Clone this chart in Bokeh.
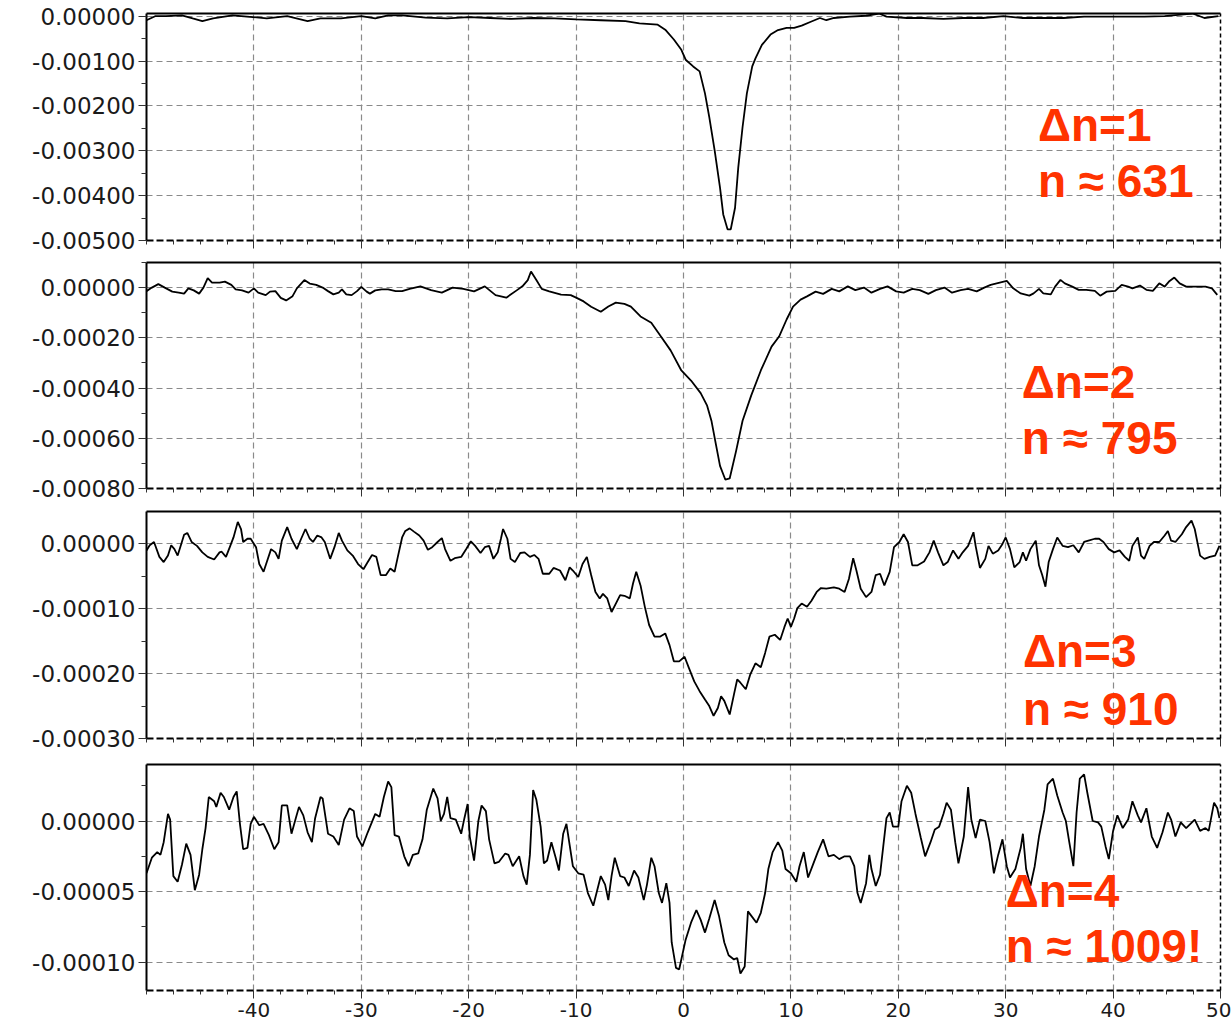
from bokeh.plotting import figure
from bokeh.layouts import column
from bokeh.models import (FixedTicker, PrintfTickFormatter, Range1d, Label, LinearAxis,
                          CustomLabelingPolicy)
from bokeh.embed import file_html
from bokeh.resources import INLINE
import numpy as np

# ---------------- data ----------------
# panel 1 (values in 1e-3)
x1 = [-50.0, -49.2, -48.2, -46.7, -45.7, -44.8, -43.8, -42.0, -40.1, -38.8, -36.9, -35.0, -33.8, -31.9,
      -30.0, -28.7, -27.5, -26.2, -24, -22, -20, -18, -16, -14, -12, -10, -7.7, -5.4, -4.1, -2.4, -1.7,
      -0.9, -0.2, 0.2, 0.9, 1.5, 2.0, 2.4, 2.9, 3.4, 3.7, 4.1, 4.4, 4.8, 5.1, 5.5, 5.9, 6.4, 6.7, 7.3,
      8.1, 8.8, 9.6, 10.3, 11.0, 11.8, 12.7, 13.3, 14.0, 15.5, 17.0, 18.2, 18.9, 20.8, 22.3, 24.2, 26.0,
      27.9, 29.8, 31.6, 33.5, 35.4, 37.3, 39.1, 41.0, 42.9, 44.8, 46.6, 47.4, 48.5, 49.8]
y1 = [-0.09, 0.0, 0.0, 0.02, -0.05, -0.11, -0.05, 0.02, -0.02, -0.05, 0.0, -0.11, -0.05, -0.05, 0.0,
      -0.05, 0.02, 0.02, -0.03, -0.05, -0.02, -0.04, -0.06, -0.04, -0.05, -0.07, -0.09, -0.11, -0.16,
      -0.19, -0.30, -0.52, -0.75, -0.97, -1.12, -1.23, -1.72, -2.25, -2.99, -3.82, -4.42, -4.75, -4.75,
      -4.27, -3.37, -2.47, -1.72, -1.12, -0.94, -0.64, -0.41, -0.31, -0.26, -0.26, -0.21, -0.13, -0.04,
      -0.09, -0.04, -0.01, 0.01, 0.06, -0.01, -0.04, -0.04, -0.06, -0.04, -0.04, 0.0, -0.04, -0.04,
      -0.04, -0.01, -0.01, -0.01, -0.01, 0.0, 0.04, 0.06, -0.04, 0.0]

# panel 2 (values in 1e-5)
x2 = [-50.0, -49.5, -48.9, -48.3, -47.6, -47.0, -46.5, -46.1, -45.6, -45.1, -44.7, -44.3, -43.9, -43.2,
      -42.7, -42.1, -41.7, -41.1, -40.5, -40.0, -39.6, -38.9, -38.5, -38.0, -37.5, -37.0, -36.4, -36.0,
      -35.3, -34.8, -34.2, -33.6, -33.1, -32.6, -32.1, -31.8, -31.4, -30.9, -30.4, -30.0, -29.5, -29.2,
      -28.7, -28.1, -27.5, -26.8, -26.2, -25.5, -24.5, -23.5, -22.5, -21.5, -20.5, -19.5, -18.5, -17.5,
      -16.5, -15.5, -15.0, -14.5, -14.2, -13.7, -13.2, -12.5, -11.4, -10.5, -10.0, -9.3, -8.6, -7.7,
      -7.0, -6.3, -5.5, -4.9, -4.0, -3.0, -2.1, -1.2, -0.2, 0.7, 1.6, 2.2, 2.6, 3.0, 3.4, 3.9, 4.3,
      4.9, 5.5, 6.3, 7.2, 8.2, 8.9, 9.6, 10.2, 10.9, 11.5, 12.3, 13.0, 13.8, 14.5, 15.3, 16.0, 16.8,
      17.5, 18.3, 19.0, 19.8, 20.5, 21.3, 22.0, 22.8, 23.5, 24.3, 25.0, 25.8, 26.5, 27.3, 28.0, 28.6,
      30.1, 30.7, 31.4, 32.2, 32.6, 33.1, 33.5, 34.2, 34.6, 35.1, 35.5, 36.2, 36.8, 37.5, 38.3, 38.8,
      39.4, 40.2, 40.8, 41.4, 41.8, 42.5, 43.1, 43.7, 44.3, 44.8, 45.2, 45.7, 46.2, 46.8, 47.7, 48.6,
      49.2, 49.7]
y2 = [-1.4, 0.0, 1.4, 0.0, -1.6, -2.0, -2.4, -0.3, -1.1, -2.4, 0.0, 3.8, 2.0, 2.0, 2.4, 1.1, -0.7,
      -1.1, -2.0, -0.3, -2.0, -3.0, -1.6, -1.4, -4.1, -5.1, -3.4, -0.3, 3.0, 1.6, 1.1, 0.0, -1.4, -2.7,
      -2.0, -0.7, -2.7, -3.0, -1.4, 0.3, -1.6, -2.4, -1.1, -0.7, -0.7, -1.4, -1.4, -0.5, 0.5, -1.0,
      -2.0, 0.0, -0.5, -1.5, 0.5, -3.0, -4.0, -1.0, 0.5, 3.0, 6.4, 3.0, -0.5, -1.5, -2.8, -3.0, -4.0,
      -5.5, -7.6, -9.6, -7.5, -6.0, -6.5, -7.6, -11.5, -14.0, -19.5, -25.0, -33.0, -37.0, -42.0, -47.0,
      -53.0, -62.0, -71.0, -76.5, -76.0, -65.0, -53.0, -43.0, -33.0, -23.5, -19.5, -12.7, -7.6, -4.8,
      -3.5, -1.6, -2.5, -0.5, -1.5, 0.5, -1.0, 0.0, -2.0, -0.5, 0.5, -1.5, -2.0, -0.5, -1.0, -2.5,
      -1.0, 0.0, -2.0, -1.0, -0.5, -1.5, 0.0, 1.1, 2.7, -0.3, -2.3, -3.2, -2.3, -0.5, -2.3, -2.7, 0.4,
      3.1, 1.7, 0.4, -0.9, -0.9, -1.3, -3.2, -1.6, -1.3, 1.1, 0.4, -0.3, 0.8, -0.9, -1.3, 1.7, 0.4,
      2.4, 4.0, 1.7, 0.4, 0.4, 0.4, -0.3, -2.9]

# panel 3 (values in 1e-5)
x3 = [-50.0, -49.7, -49.3, -48.8, -48.4, -48.0, -47.7, -47.4, -47.1, -46.8, -46.5, -46.2, -45.8, -45.3,
      -44.8, -44.3, -43.7, -43.2, -43.0, -42.6, -42.2, -41.9, -41.5, -41.2, -41.0, -40.6, -40.3, -39.8,
      -39.5, -39.1, -38.8, -38.4, -38.0, -37.7, -37.4, -36.9, -36.5, -36.0, -35.6, -35.2, -34.8, -34.5,
      -34.1, -33.7, -33.4, -32.9, -32.5, -32.1, -31.8, -31.3, -30.8, -30.3, -29.8, -29.4, -29.0, -28.6,
      -28.2, -27.7, -27.3, -26.9, -26.6, -26.2, -25.9, -25.5, -25.1, -24.6, -24.2, -23.8, -23.4, -22.9,
      -22.5, -22.2, -21.7, -21.3, -20.7, -20.2, -19.8, -19.4, -18.9, -18.5, -18.1, -17.7, -17.3, -17.0,
      -16.8, -16.4, -16.1, -15.7, -15.2, -14.8, -14.3, -13.9, -13.5, -13.1, -12.5, -12.1, -11.5, -11.0,
      -10.6, -10.3, -9.8, -9.4, -9.0, -8.6, -8.2, -7.8, -7.5, -7.1, -6.7, -6.3, -5.9, -5.5, -5.0, -4.7,
      -4.4, -4.0, -3.6, -3.2, -2.7, -2.2, -1.7, -1.3, -0.9, -0.4, 0.1, 0.5, 1.0, 1.5, 2.0, 2.4, 2.8,
      3.2, 3.5, 3.8, 4.3, 4.7, 5.0, 5.3, 5.8, 6.2, 6.7, 7.2, 7.6, 8.0, 8.5, 9.0, 9.4, 9.7, 10.0, 10.3,
      10.6, 11.0, 11.5, 11.9, 12.4, 12.8, 13.3, 14.0, 14.5, 15.0, 15.4, 15.8, 16.1, 16.5, 17.0, 17.5,
      17.9, 18.3, 18.7, 19.2, 19.6, 20.1, 20.5, 20.9, 21.3, 21.8, 22.4, 22.9, 23.3, 23.7, 24.2, 24.6,
      25.1, 25.6, 26.0, 26.5, 27.0, 27.2, 27.6, 28.1, 28.4, 28.8, 29.3, 29.7, 30.0, 30.4, 30.8, 31.3,
      31.6, 31.9, 32.3, 32.8, 33.1, 33.4, 33.7, 34.0, 34.4, 34.8, 35.3, 35.8, 36.3, 36.8, 37.3, 37.7,
      38.3, 38.7, 39.1, 39.6, 40.1, 40.6, 41.1, 41.5, 41.8, 42.3, 42.6, 42.9, 43.4, 43.8, 44.3, 44.8,
      45.1, 45.4, 45.8, 46.4, 46.8, 47.3, 47.6, 48.1, 48.5, 49.0, 49.5, 49.9]
y3 = [-1.0, -0.2, 0.3, -2.0, -2.8, -1.8, -0.2, -0.8, -1.8, -0.2, 1.4, 1.7, 0.3, -0.3, -1.3, -2.0,
      -2.4, -1.3, -1.2, -2.0, -0.3, 1.0, 3.4, 2.3, 0.3, 0.8, 0.8, -0.5, -3.1, -4.3, -2.8, -0.8, -1.3,
      -2.3, 0.5, 2.6, 0.8, -0.8, 0.8, 2.3, 0.8, 0.3, 1.3, 1.0, 0.3, -2.3, -0.5, 1.7, 0.5, -1.0, -1.8,
      -3.1, -3.9, -2.8, -1.7, -2.0, -4.8, -4.8, -3.8, -4.3, -2.0, 1.0, 2.0, 2.4, 1.9, 1.3, 0.5, -0.9,
      -0.5, 0.3, 0.9, -0.8, -2.6, -2.2, -2.0, -0.7, 0.4, -0.3, -1.4, -0.5, -0.3, -2.3, -1.3, 0.8, 2.3,
      0.8, -2.3, -2.8, -1.4, -1.3, -2.0, -1.7, -2.3, -4.6, -4.6, -3.7, -4.1, -5.6, -3.6, -4.1, -5.1,
      -3.1, -2.0, -4.8, -7.4, -8.4, -7.7, -8.4, -10.5, -9.2, -7.9, -8.0, -8.4, -6.1, -4.3, -6.4, -9.7,
      -12.5, -14.3, -14.3, -13.8, -15.6, -18.1, -18.1, -17.4, -19.1, -21.2, -22.7, -24.0, -25.0, -26.5,
      -25.3, -23.5, -24.2, -26.3, -23.2, -20.9, -21.4, -22.4, -20.2, -18.4, -19.0, -16.8, -14.3, -14.0,
      -14.8, -12.8, -11.5, -12.8, -11.5, -9.9, -9.2, -9.7, -8.8, -7.4, -6.8, -6.9, -6.7, -6.9, -7.4,
      -5.4, -2.2, -4.1, -6.9, -8.2, -7.4, -4.8, -4.6, -6.4, -4.3, -0.5, 0.3, 1.5, 0.3, -3.3, -3.3,
      -2.7, -1.3, 0.5, -1.3, -3.3, -2.8, -1.0, -2.3, -1.3, -0.3, 1.8, -0.3, -3.7, -2.3, -0.3, -1.5,
      -1.0, 0.0, 1.0, -0.8, -3.6, -2.8, -1.3, -2.6, -0.8, 0.5, -3.3, -4.8, -6.6, -2.8, -0.8, 1.0,
      -0.3, -0.5, -0.2, -1.3, 0.3, 0.5, 0.8, 0.8, 0.3, -0.8, -1.3, -1.0, -2.0, -2.6, -0.3, 1.0, -1.8,
      -2.3, -0.3, 0.3, 0.3, 1.3, 2.0, 0.5, 0.3, 1.5, 2.6, 3.6, 2.3, -1.8, -2.3, -2.0, -1.8, -0.3]

# panel 4 (values in 1e-5)
x4 = [-50.0, -49.5, -49.0, -48.7, -48.4, -48.0, -47.8, -47.5, -47.1, -46.7, -46.3, -45.9, -45.5, -45.1,
      -44.8, -44.5, -44.2, -43.7, -43.5, -43.1, -42.8, -42.3, -41.9, -41.6, -41.3, -41.0, -40.6, -40.3,
      -40.0, -39.5, -39.1, -38.6, -38.1, -37.7, -37.4, -36.9, -36.5, -36.1, -35.8, -35.4, -35.0, -34.6,
      -34.3, -33.8, -33.6, -33.1, -32.6, -32.1, -31.6, -31.1, -30.7, -30.4, -29.9, -29.4, -28.7, -28.3,
      -27.9, -27.5, -27.2, -26.9, -26.5, -26.0, -25.6, -25.2, -24.7, -24.3, -23.9, -23.3, -22.9, -22.6,
      -22.3, -22.0, -21.7, -21.2, -20.7, -20.4, -20.1, -19.9, -19.5, -19.1, -18.8, -18.4, -18.1, -17.6,
      -17.2, -16.6, -16.3, -15.9, -15.3, -14.9, -14.6, -14.3, -14.0, -13.7, -13.3, -13.0, -12.7, -12.3,
      -11.9, -11.6, -11.2, -10.9, -10.3, -9.8, -9.3, -8.9, -8.4, -8.1, -7.7, -7.3, -7.0, -6.7, -6.4,
      -5.9, -5.5, -5.1, -4.6, -4.2, -3.7, -3.4, -3.0, -2.7, -2.3, -2.0, -1.6, -1.3, -1.1, -0.7, -0.4,
      0.2, 0.7, 1.2, 1.6, 2.0, 2.4, 2.9, 3.3, 3.8, 4.2, 4.7, 5.0, 5.3, 5.7, 6.0, 6.3, 6.8, 7.2, 7.6,
      7.9, 8.3, 8.8, 9.2, 9.5, 10.0, 10.5, 10.8, 11.2, 11.6, 12.1, 12.5, 13.0, 13.5, 14.0, 14.5, 15.0,
      15.5, 15.9, 16.2, 16.5, 17.0, 17.3, 17.5, 17.9, 18.3, 18.6, 18.9, 19.2, 19.5, 20.0, 20.3, 20.8,
      21.2, 21.6, 22.1, 22.5, 23.0, 23.4, 23.8, 24.2, 24.5, 24.9, 25.3, 25.6, 26.1, 26.5, 26.8, 27.2,
      27.6, 28.1, 28.5, 28.9, 29.3, 29.7, 30.1, 30.4, 30.9, 31.4, 31.6, 31.9, 32.3, 32.7, 33.1, 33.6,
      33.9, 34.4, 34.8, 35.3, 35.6, 35.9, 36.3, 36.6, 36.9, 37.3, 37.6, 38.1, 38.6, 38.9, 39.3, 39.6,
      40.0, 40.4, 40.9, 41.4, 41.8, 42.3, 42.6, 43.1, 43.6, 44.1, 44.6, 45.1, 45.4, 45.8, 46.3, 46.8,
      47.2, 47.6, 48.1, 48.6, 48.9, 49.4, 49.7, 49.9]
y4 = [-3.7, -2.6, -2.2, -2.4, -1.5, 0.5, 0.1, -3.9, -4.3, -3.1, -1.6, -2.4, -4.9, -3.8, -2.0, -0.5,
      1.7, 1.4, 1.0, 2.0, 1.7, 0.8, 1.7, 2.1, -0.2, -2.0, -1.9, -0.2, 0.3, -0.3, -0.2, -1.0, -2.0,
      -1.5, 1.1, 1.1, -0.9, 0.2, 1.0, 0.4, -0.8, -1.5, 0.2, 1.7, 1.6, -0.9, -1.1, -1.7, 0.1, 0.9, 0.7,
      -1.1, -1.8, -0.8, 0.5, 0.3, 1.7, 2.8, 2.4, -1.0, -1.1, -2.5, -3.2, -2.4, -2.3, -1.3, 0.8, 2.3,
      1.6, 0.0, 0.5, 1.7, 0.2, 0.1, -0.9, 0.2, 1.2, -1.1, -2.8, 0.0, 1.1, 0.7, -1.3, -3.0, -2.9, -2.3,
      -2.4, -3.2, -2.5, -3.9, -4.5, -2.4, 2.2, 1.5, -0.4, -3.0, -2.8, -1.5, -2.6, -3.5, -0.9, -0.2,
      -3.2, -3.7, -3.8, -5.1, -6.0, -5.1, -3.9, -4.5, -5.6, -3.9, -2.6, -3.9, -4.0, -4.6, -3.5, -4.0,
      -5.6, -4.5, -2.6, -3.2, -5.1, -5.8, -4.4, -5.8, -8.6, -10.4, -10.5, -8.4, -7.2, -6.3, -7.0, -7.9,
      -6.9, -5.6, -6.7, -8.6, -9.5, -9.8, -9.7, -10.8, -10.3, -6.4, -6.7, -7.2, -6.5, -5.1, -3.4, -2.2,
      -1.5, -2.1, -3.4, -3.7, -4.3, -3.2, -2.2, -4.0, -3.0, -2.2, -1.3, -2.5, -2.4, -2.7, -2.5, -2.5,
      -3.2, -5.1, -5.8, -4.4, -2.4, -3.4, -4.6, -3.8, -1.8, 0.2, 0.6, -0.4, -0.4, 1.4, 2.5, 2.0, 0.5,
      -1.2, -2.5, -1.5, -0.6, -0.4, 0.5, 1.3, 0.8, -1.5, -3.0, -1.1, 2.4, 0.1, -1.2, 0.1, 0.0, -1.5,
      -3.7, -2.4, -1.3, -3.2, -4.0, -3.4, -1.9, -0.9, -3.4, -4.6, -3.2, -1.1, 0.8, 2.6, 3.0, 1.8, 0.6,
      0.0, -1.4, -3.2, 0.6, 3.0, 3.3, 2.0, 0.0, -0.1, -0.4, -1.8, -2.7, -0.7, 0.4, -0.5, 0.1, 1.4, 0.4,
      -0.1, 0.9, -1.1, -1.9, -0.8, 0.6, 0.1, -1.1, -0.1, -0.5, -0.2, 0.1, -0.7, -0.5, -0.7, 1.3, 0.9,
      0.2]

x_major = [-40, -30, -20, -10, 0, 10, 20, 30, 40, 50]
x_minor = [-50 + 2.5 * i for i in range(41)]

panels = [
    dict(x=x1, y=y1, unit=1e-3, yr=(-0.005, 0.00006),
         major=[0, -0.001, -0.002, -0.003, -0.004, -0.005],
         minor=[-0.0005, -0.0015, -0.0025, -0.0035, -0.0045],
         text=("\u0394n=1", "n \u2248 631"), tx=33.0, ty=(-0.00243, -0.00368),
         top=13, frame=227, bottom=14, xlabels=False),
    dict(x=x2, y=y2, unit=1e-5, yr=(-0.0008, 0.0001),
         major=[0, -0.0002, -0.0004, -0.0006, -0.0008],
         minor=[0.0001, -0.0001, -0.0003, -0.0005, -0.0007],
         text=("\u0394n=2", "n \u2248 795"), tx=31.5, ty=(-0.000375, -0.000600),
         top=8, frame=226, bottom=14, xlabels=False),
    dict(x=x3, y=y3, unit=1e-5, yr=(-0.0003, 0.00005),
         major=[0, -0.0001, -0.0002, -0.0003],
         minor=[-0.00005, -0.00015, -0.00025],
         text=("\u0394n=3", "n \u2248 910"), tx=31.6, ty=(-0.000165, -0.000255),
         top=9, frame=227, bottom=14, xlabels=False),
    dict(x=x4, y=y4, unit=1e-5, yr=(-0.00012, 0.00004),
         major=[0, -0.00005, -0.0001],
         minor=[0.000025, -0.000025, -0.000075],
         text=("\u0394n=4", "n \u2248 1009!"), tx=30.0, ty=(-0.0000495, -0.0000885),
         top=12, frame=226, bottom=32, xlabels=True),
]

hide_all = CustomLabelingPolicy(code="""
const ids = [];
for (const i of indices) ids.push(i);
for (const i of ids) indices.unset(i);
return indices;
""")

figs = []
for d in panels:
    H = d["top"] + d["frame"] + d["bottom"]
    p = figure(width=1231, height=H, output_backend="svg", toolbar_location=None,
               x_range=Range1d(-50, 50), y_range=Range1d(*d["yr"]),
               min_border_left=146, min_border_right=11,
               min_border_top=d["top"], min_border_bottom=d["bottom"],
               background_fill_color="white", border_fill_color="white")
    p.outline_line_color = None

    yv = list(np.array(d["y"]) * d["unit"])
    p.line(d["x"], yv, line_color="black", line_width=1.8)

    # x axis
    xa = p.xaxis[0]
    xa.ticker = FixedTicker(ticks=x_major, minor_ticks=x_minor)
    xa.formatter = PrintfTickFormatter(format="%d")
    xa.axis_line_color = "black"
    xa.axis_line_width = 2
    xa.axis_line_dash = "7 3"
    xa.major_tick_out = 8
    xa.major_tick_in = 0
    xa.minor_tick_out = 4
    xa.minor_tick_in = 0
    xa.major_tick_line_color = "#333333"
    xa.minor_tick_line_color = "#333333"
    xa.major_label_text_font = "DejaVu Sans"
    xa.major_label_text_color = "#1a1a1a"
    if d["xlabels"]:
        xa.major_label_text_font_size = "20px"
        xa.major_label_standoff = 4
    else:
        xa.major_label_text_font_size = "1px"
        xa.major_label_standoff = 0
        xa.major_label_policy = hide_all

    # y axis
    ya = p.yaxis[0]
    ya.ticker = FixedTicker(ticks=d["major"], minor_ticks=d["minor"])
    ya.formatter = PrintfTickFormatter(format="%.5f")
    ya.axis_line_color = "black"
    ya.axis_line_width = 2
    ya.major_tick_out = 8
    ya.major_tick_in = 0
    ya.minor_tick_out = 5
    ya.minor_tick_in = 0
    ya.major_tick_line_color = "#333333"
    ya.minor_tick_line_color = "#333333"
    ya.major_label_text_font = "DejaVu Sans"
    ya.major_label_text_font_size = "23px"
    ya.major_label_text_color = "#1a1a1a"
    ya.major_label_standoff = 3

    # frame lines on top (solid) and right (dashed)
    top_ax = LinearAxis(ticker=FixedTicker(ticks=[]), major_label_text_font_size="1px",
                        major_tick_out=0, major_tick_in=0, minor_tick_out=0, minor_tick_in=0,
                        major_label_standoff=0, axis_line_color="black", axis_line_width=2)
    p.add_layout(top_ax, "above")
    right_ax = LinearAxis(ticker=FixedTicker(ticks=[]), major_label_text_font_size="1px",
                          major_tick_out=0, major_tick_in=0, minor_tick_out=0, minor_tick_in=0,
                          major_label_standoff=0, axis_line_color="black", axis_line_width=1.5,
                          axis_line_dash="4 3")
    p.add_layout(right_ax, "right")

    # grid
    p.xgrid.ticker = FixedTicker(ticks=x_major)
    p.xgrid.grid_line_color = "#8a8a8a"
    p.xgrid.grid_line_dash = "6 4"
    p.xgrid.grid_line_width = 1.2
    p.ygrid.grid_line_color = "#8a8a8a"
    p.ygrid.grid_line_dash = "6 4"
    p.ygrid.grid_line_width = 1.2

    for txt, yy in zip(d["text"], d["ty"]):
        p.add_layout(Label(x=d["tx"], y=yy, text=txt, text_font="Liberation Sans",
                           text_font_style="bold", text_font_size="46px",
                           text_color="#ff3300", text_align="left",
                           text_baseline="alphabetic"))
    figs.append(p)

layout = column(*figs, spacing=0)
open("out.html", "w").write(file_html(layout, INLINE))
